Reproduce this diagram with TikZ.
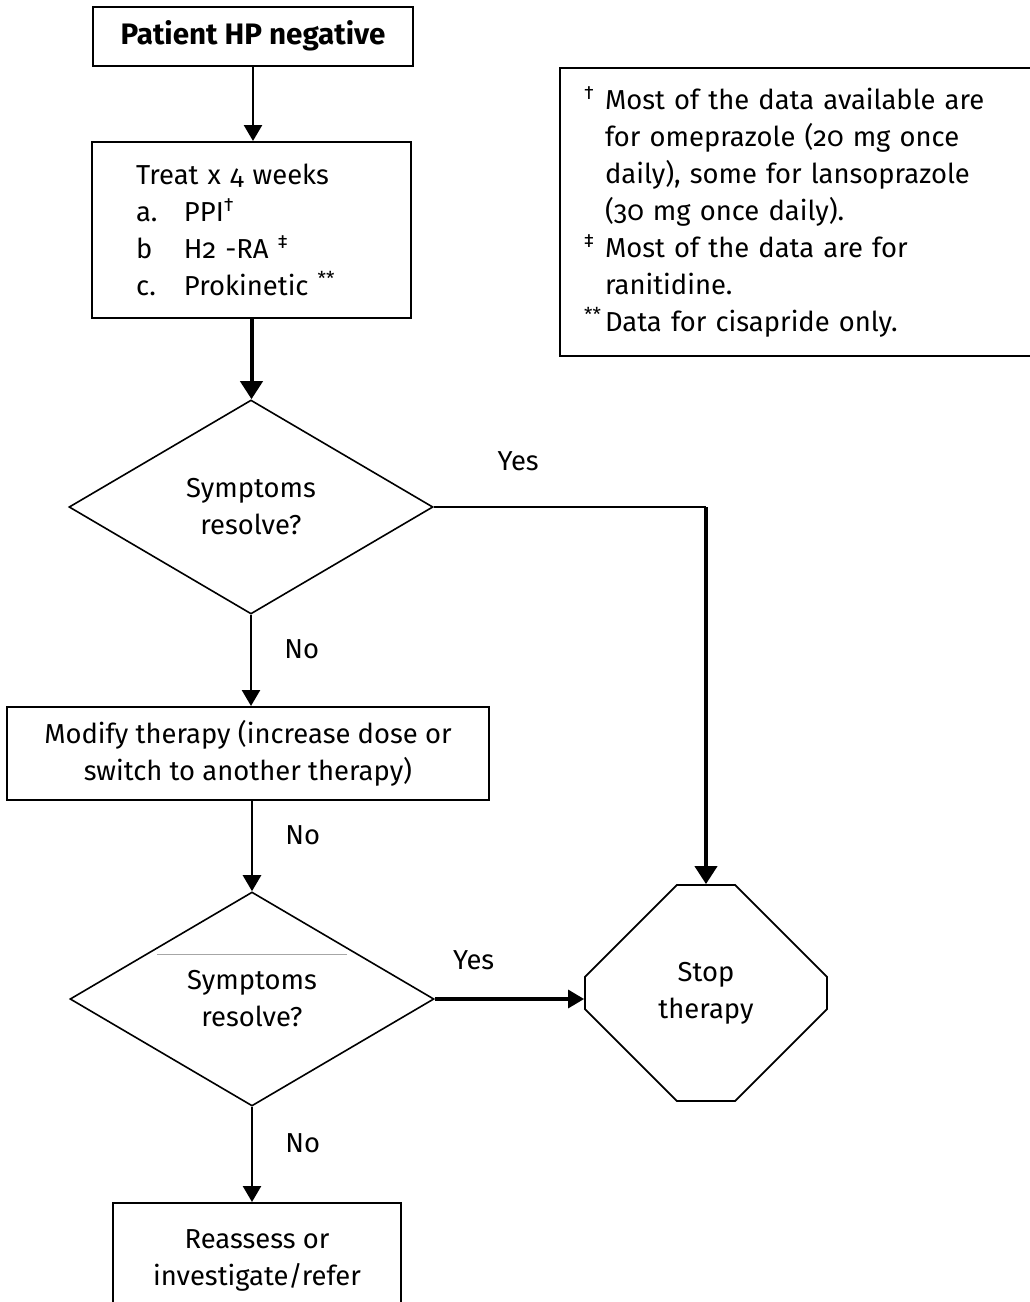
\documentclass[tikz,border=0pt]{standalone}
\usepackage{fontspec}
\setmainfont{Fira Sans}[Numbers=OldStyle]
\usetikzlibrary{shapes.geometric,shapes.misc,positioning,arrows.meta,calc}

\newcommand{\fnmark}[1]{\makebox[10.5pt][l]{\textsuperscript{#1}}}
\newcommand{\fnpad}{\hspace*{10.5pt}}

\begin{document}
\begin{tikzpicture}[
    x=0.5pt, y=-0.5pt,
    font=\fontsize{13.7}{18.5}\selectfont,
    box/.style={rectangle, draw, line width=1pt, text centered, align=center},
    decision/.style={diamond, draw, line width=0.8pt, align=center, minimum width=182pt, minimum height=107pt, inner sep=0pt},
    stopbox/.style={chamfered rectangle, chamfered rectangle sep=31.5pt, draw, line width=0.9pt, minimum width=121pt, minimum height=108pt, align=center},
    note/.style={rectangle, draw, line width=1pt, align=left, anchor=north west},
    answer/.style={inner sep=0pt},
    arrow/.style={-{Triangle[length=8pt,width=9pt]}, line width=1.3pt},
    thickarrow/.style={-{Triangle[length=9pt,width=11pt]}, line width=2pt}
]
\useasboundingbox (0,0) rectangle (1029,1302);

% Main column
\node[box, minimum width=160pt, minimum height=29.5pt, font=\fontsize{14.8}{18.5}\selectfont\bfseries] (patient) at (253,36) {Patient HP negative};
\node[box, align=left, text width=115.5pt, inner xsep=22pt, minimum height=88pt] (treat) at (251.5,230)
    {Treat x 4 weeks\\
     \makebox[24pt][l]{a.}PPI\textsuperscript{†}\\
     \makebox[24pt][l]{b}H2 -RA \textsuperscript{‡}\\
     \makebox[24pt][l]{c.}Prokinetic \textsuperscript{**}\\[18.5pt]};
\node[decision] (check1) at (251,507) {Symptoms\\resolve?};
\node[box, minimum width=241pt, minimum height=46.5pt] (modify) at (248,753.5) {Modify therapy (increase dose or\\switch to another therapy)};
\node[decision] (check2) at (252,999) {Symptoms\\resolve?};
\node[box, minimum width=144pt, minimum height=57pt] (reassess) at (257,1260) {Reassess or\\investigate/refer};

% Right side
\node[stopbox] (stop) at (706,993) {Stop\\therapy};
\node[note, text width=216.5pt, inner xsep=12pt, minimum height=144pt] (notes) at (559,67)
    {\fnmark{†}Most of the data available are\\
     \fnpad for omeprazole (20 mg once\\
     \fnpad daily), some for lansoprazole\\
     \fnpad (30 mg once daily).\\
     \fnmark{‡}Most of the data are for\\
     \fnpad ranitidine.\\
     \fnmark{**}Data for cisapride only.};

% stray rule above second question
\draw[gray!70, line width=0.4pt] (157,954) -- (347,954);

% Arrows
\draw[arrow] (patient.south) -- (patient.south |- treat.north);
\draw[thickarrow] (treat.south) -- (treat.south |- check1.north);
\draw[arrow] (check1.south) -- node[answer, pos=0.38, right=16pt] {No} (check1.south |- modify.north);
\draw[arrow] (modify.south -| check2.north) -- node[answer, pos=0.38, right=16pt] {No} (check2.north);
\draw[arrow] (check2.south) -- node[answer, pos=0.38, right=16pt] {No} (check2.south |- reassess.north);

\coordinate (corner) at (check1.east -| stop.north);
\draw[line width=1pt] (check1.east) -- node[answer, pos=0.31, above=17.5pt] {Yes} (corner);
\draw[thickarrow] (corner) -- (stop.north);
\draw[arrow, line width=1.6pt] (check2.east) -- node[answer, pos=0.26, above=14pt] {Yes} (check2.east -| stop.west);

\end{tikzpicture}
\end{document}
